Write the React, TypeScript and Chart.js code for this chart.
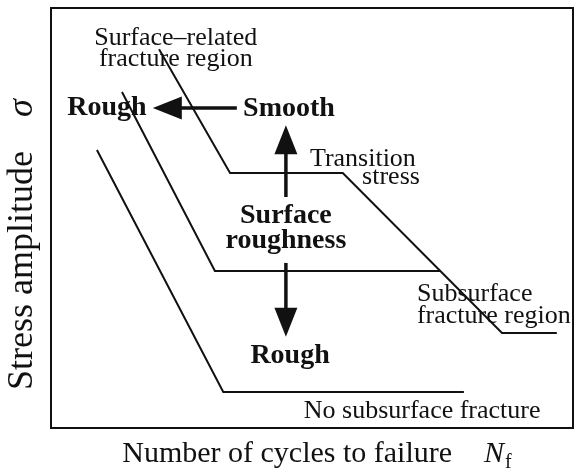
import React, { useEffect, useRef } from "react";
import { Chart, registerables } from "chart.js";

Chart.register(...registerables);

// ---- Data (schematic S-N curves, arbitrary units 0..100) ----
const smoothX = [20.7, 34.3, 55.9, 86.4, 96.9];
const smoothY = [90.2, 60.7, 60.7, 22.6, 22.6];
const middleX = [13.6, 31.4, 74.7];
const middleY = [80.0, 37.4, 37.4];
const roughX = [8.8, 33.0, 79.1];
const roughY = [66.2, 8.6, 8.6];

// ---- Annotation texts (data coordinates) ----
const noteText = [
  "Surface\u2013related",
  "fracture region",
  "Rough",
  "Smooth",
  "Transition",
  "stress",
  "Surface",
  "roughness",
  "Rough",
  "Subsurface",
  "fracture region",
  "No subsurface fracture",
];
const noteX = [23.9, 23.9, 10.7, 36.8, 49.6, 59.6, 45.0, 45.0, 45.8, 70.1, 70.1, 71.1];
const noteY = [91.2, 86.2, 74.5, 74.3, 62.4, 58.1, 48.8, 42.9, 15.5, 30.2, 25.0, 2.4];
const noteAlign = ["center", "center", "center", "left", "left", "left", "center", "center", "center", "left", "left", "center"];
const noteBold = [false, false, true, true, false, false, true, true, true, false, false, false];

// ---- Arrows (data coordinates: from -> tip) ----
const arrowFromX = [35.6, 45.0, 45.0];
const arrowFromY = [76.2, 55.0, 39.3];
const arrowToX = [19.5, 45.0, 45.0];
const arrowToY = [76.2, 72.1, 21.7];

const xTitle = "Number of cycles to failure";
const yTitle = "Stress amplitude";

const INK = "#111111";
const SERIF = '"Liberation Serif", "Times New Roman", serif';

const schematicPlugin = {
  id: "schematic",
  afterDatasetsDraw(chart: any) {
    const { ctx, chartArea: a, scales } = chart;
    const xs = scales.x;
    const ys = scales.y;
    ctx.save();
    ctx.strokeStyle = INK;
    ctx.fillStyle = INK;

    // frame
    ctx.lineWidth = 2;
    ctx.strokeRect(a.left, a.top, a.right - a.left, a.bottom - a.top);

    // arrows
    const HEAD = 29;
    const HW = 11.5;
    for (let i = 0; i < arrowFromX.length; i++) {
      const x0 = xs.getPixelForValue(arrowFromX[i]);
      const y0 = ys.getPixelForValue(arrowFromY[i]);
      const x1 = xs.getPixelForValue(arrowToX[i]);
      const y1 = ys.getPixelForValue(arrowToY[i]);
      const dx = x1 - x0;
      const dy = y1 - y0;
      const len = Math.hypot(dx, dy);
      const ux = dx / len;
      const uy = dy / len;
      const bx = x1 - ux * HEAD;
      const by = y1 - uy * HEAD;
      ctx.lineWidth = 3.5;
      ctx.lineCap = "butt";
      ctx.beginPath();
      ctx.moveTo(x0, y0);
      ctx.lineTo(bx + ux * 1, by + uy * 1);
      ctx.stroke();
      ctx.beginPath();
      ctx.moveTo(x1, y1);
      ctx.lineTo(bx - uy * HW, by + ux * HW);
      ctx.lineTo(bx + uy * HW, by - ux * HW);
      ctx.closePath();
      ctx.fill();
    }

    // annotation texts
    ctx.textBaseline = "alphabetic";
    for (let i = 0; i < noteText.length; i++) {
      ctx.font = noteBold[i] ? `bold 28px ${SERIF}` : `26px ${SERIF}`;
      ctx.textAlign = noteAlign[i];
      ctx.fillText(noteText[i], xs.getPixelForValue(noteX[i]), ys.getPixelForValue(noteY[i]));
    }

    // x-axis title: "Number of cycles to failure    N_f"
    ctx.textAlign = "left";
    ctx.font = `30px ${SERIF}`;
    const wMain = ctx.measureText(xTitle).width;
    ctx.font = `italic 30px ${SERIF}`;
    const wN = ctx.measureText("N").width;
    ctx.font = `20px ${SERIF}`;
    const wf = ctx.measureText("f").width;
    const gap = 32;
    const total = wMain + gap + wN + 1 + wf;
    const cx = (a.left + a.right) / 2 + 5;
    let sx = cx - total / 2;
    const baseX = a.bottom + 34;
    ctx.font = `30px ${SERIF}`;
    ctx.fillText(xTitle, sx, baseX);
    sx += wMain + gap;
    ctx.font = `italic 30px ${SERIF}`;
    ctx.fillText("N", sx, baseX);
    sx += wN + 1;
    ctx.font = `20px ${SERIF}`;
    ctx.fillText("f", sx, baseX + 6);

    // y-axis title: "Stress amplitude    σ" rotated
    ctx.save();
    ctx.translate(32, a.bottom - 38);
    ctx.rotate(-Math.PI / 2);
    ctx.font = `36px ${SERIF}`;
    ctx.fillText(yTitle, 0, 0);
    const wY = ctx.measureText(yTitle).width;
    ctx.font = `italic 36px ${SERIF}`;
    ctx.fillText("\u03C3", wY + 34, 0);
    ctx.restore();

    ctx.restore();
  },
};

export default function App() {
  const canvasRef = useRef<HTMLCanvasElement | null>(null);

  useEffect(() => {
    const canvas = canvasRef.current;
    if (!canvas) return;
    const mk = (xs: number[], ys: number[]) => xs.map((v, i) => ({ x: v, y: ys[i] }));
    const lineStyle = {
      showLine: true,
      borderColor: INK,
      backgroundColor: INK,
      borderWidth: 2,
      pointRadius: 0,
      pointHoverRadius: 0,
      tension: 0,
      fill: false,
    };
    const chart = new Chart(canvas, {
      type: "scatter",
      data: {
        datasets: [
          { label: "Smooth", data: mk(smoothX, smoothY), ...lineStyle },
          { label: "Intermediate", data: mk(middleX, middleY), ...lineStyle },
          { label: "Rough", data: mk(roughX, roughY), ...lineStyle },
        ],
      },
      options: {
        responsive: false,
        animation: false,
        events: [],
        layout: { padding: { left: 51, top: 8, right: 2, bottom: 46 } },
        scales: {
          x: { type: "linear", min: 0, max: 100, display: false },
          y: { type: "linear", min: 0, max: 100, display: false },
        },
        plugins: {
          legend: { display: false },
          tooltip: { enabled: false },
        },
      },
      plugins: [schematicPlugin],
    });
    return () => chart.destroy();
  }, []);

  return (
    <div style={{ position: "absolute", left: 0, top: 0, width: 575, height: 474, background: "#fff" }}>
      <canvas ref={canvasRef} width={575} height={474} style={{ display: "block" }} />
    </div>
  );
}
